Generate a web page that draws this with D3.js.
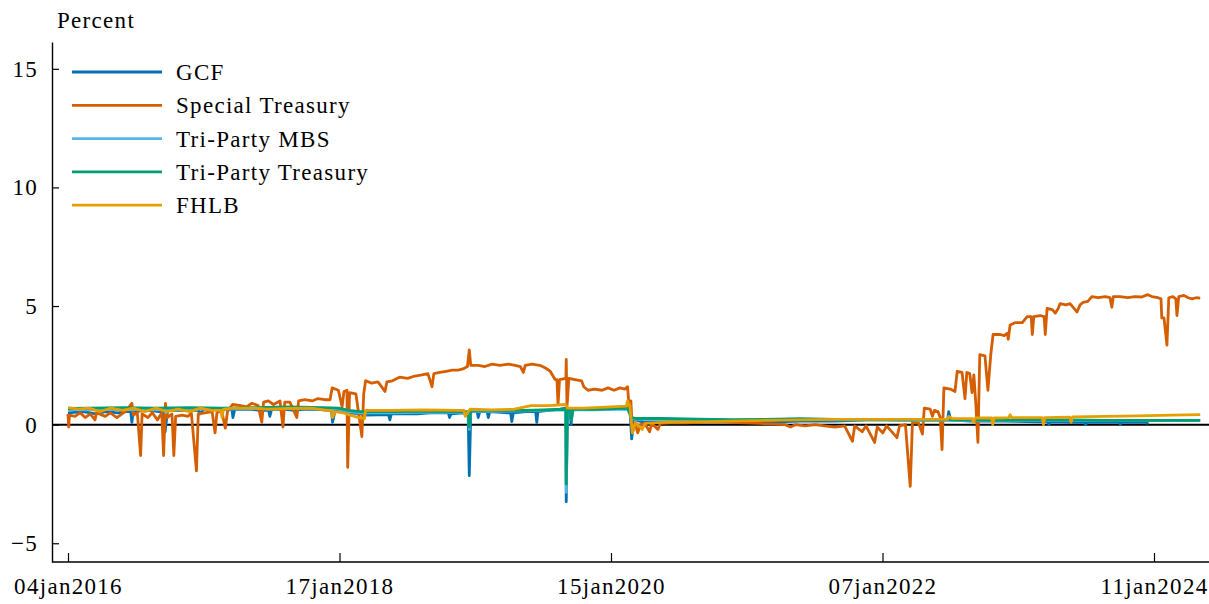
<!DOCTYPE html>
<html>
<head>
<meta charset="utf-8">
<script src="https://cdn.jsdelivr.net/npm/d3@7"></script>
<style>
  html, body { margin: 0; padding: 0; background: #ffffff; }
  svg text { font-family: "Liberation Serif", "DejaVu Serif", serif; fill: #000; letter-spacing: 1.3px; }
</style>
</head>
<body>
<svg id="chart" width="1209" height="604"></svg>
<script>
// Repo rates by segment, percent, daily observations sampled at key dates
const gcf = [
  ["2016-01-04",0.50],["2016-02-15",0.55],["2016-03-20",0.45],["2016-04-15",0.55],["2016-05-20",0.50],
  ["2016-06-10",0.55],["2016-06-24",0.55],["2016-06-27",0.10],["2016-07-01",0.55],["2016-08-10",0.60],
  ["2016-09-10",0.55],["2016-09-23",0.55],["2016-09-26",-0.30],["2016-10-03",0.60],["2016-11-10",0.60],
  ["2016-12-10",0.60],["2016-12-27",0.60],["2016-12-30",0.45],["2017-01-10",0.65],["2017-02-15",0.65],
  ["2017-03-28",0.65],["2017-03-31",0.30],["2017-04-05",0.65],["2017-05-15",0.65],["2017-06-15",0.60],
  ["2017-07-07",0.60],["2017-07-10",0.35],["2017-07-15",0.65],["2017-08-15",0.65],["2017-09-15",0.60],
  ["2017-10-15",0.65],["2017-11-15",0.65],["2017-12-15",0.60],["2017-12-26",0.60],["2017-12-29",0.10],
  ["2018-01-05",0.60],["2018-02-15",0.50],["2018-03-15",0.45],["2018-04-01",0.40],["2018-05-29",0.42],
  ["2018-06-01",0.20],["2018-06-05",0.45],["2018-07-15",0.45],["2018-08-15",0.45],["2018-09-15",0.50],
  ["2018-10-15",0.50],["2018-11-05",0.50],["2018-11-08",0.30],["2018-11-12",0.45],["2018-12-15",0.50],
  ["2018-12-28",0.45],["2018-12-31",-2.15],["2019-01-04",0.55],["2019-01-21",0.55],["2019-01-24",0.30],
  ["2019-01-28",0.55],["2019-02-17",0.55],["2019-02-20",0.30],["2019-02-24",0.55],["2019-04-15",0.50],
  ["2019-04-21",0.50],["2019-04-24",0.13],["2019-04-28",0.50],["2019-06-01",0.55],["2019-06-27",0.55],
  ["2019-06-30",0.10],["2019-07-03",0.55],["2019-08-01",0.60],["2019-09-01",0.65],["2019-09-16",0.70],
  ["2019-09-17",-3.25],["2019-09-20",0.60],["2019-09-27",0.60],["2019-09-30",0.00],["2019-10-03",0.65],
  ["2019-11-01",0.65],["2019-12-01",0.65],["2019-12-31",0.70],["2020-01-31",0.70],["2020-02-28",0.65],
  ["2020-03-06",0.50],["2020-03-10",-0.60],["2020-03-16",0.20],["2020-04-15",0.10],["2020-06-01",0.12],
  ["2020-09-01",0.12],["2020-12-01",0.13],["2021-03-01",0.10],["2021-06-01",0.15],["2021-09-01",0.15],
  ["2021-12-01",0.20],["2022-03-01",0.20],["2022-06-01",0.20],["2022-07-02",0.20],["2022-07-05",0.55],
  ["2022-07-10",0.20],["2022-09-01",0.15],["2022-12-01",0.15],["2023-03-01",0.12],["2023-03-30",0.12],
  ["2023-04-02",0.00],["2023-04-05",0.12],["2023-06-01",0.10],["2023-07-07",0.10],["2023-07-10",0.00],
  ["2023-07-14",0.10],["2023-09-01",0.10],["2023-10-09",0.10],["2023-10-12",0.02],["2023-10-15",0.10],
  ["2023-12-01",0.10],["2023-12-22",0.10],["2023-12-26",0.02]
];

const specialTreasury = [
  ["2016-01-04",0.45],["2016-01-06",-0.10],["2016-01-08",0.40],["2016-01-23",0.35],["2016-02-06",0.50],
  ["2016-02-20",0.30],["2016-03-05",0.45],["2016-03-18",0.20],["2016-03-22",0.50],["2016-04-15",0.35],
  ["2016-04-29",0.50],["2016-05-17",0.30],["2016-05-31",0.45],["2016-06-12",0.60],["2016-06-27",0.90],
  ["2016-07-01",0.40],["2016-07-12",0.50],["2016-07-21",-1.30],["2016-07-25",0.45],["2016-08-10",0.30],
  ["2016-08-22",0.50],["2016-09-05",0.20],["2016-09-17",0.50],["2016-09-22",-1.30],["2016-09-27",0.90],
  ["2016-10-02",0.30],["2016-10-15",0.45],["2016-10-20",-1.30],["2016-10-25",0.35],["2016-11-12",0.40],
  ["2016-11-28",0.35],["2016-12-07",0.50],["2016-12-21",-1.95],["2016-12-26",0.45],["2017-01-13",0.50],
  ["2017-02-02",0.55],["2017-02-10",-0.35],["2017-02-15",0.50],["2017-02-28",0.60],["2017-03-10",-0.15],
  ["2017-03-16",0.55],["2017-03-30",0.85],["2017-04-22",0.80],["2017-05-07",0.75],["2017-05-22",0.90],
  ["2017-06-08",0.80],["2017-06-18",0.10],["2017-06-23",0.95],["2017-07-06",1.00],["2017-07-20",0.85],
  ["2017-08-07",1.00],["2017-08-15",-0.10],["2017-08-20",0.95],["2017-09-03",0.95],["2017-09-22",0.30],
  ["2017-09-27",1.00],["2017-10-14",1.05],["2017-11-03",1.00],["2017-11-19",1.10],["2017-12-08",1.05],
  ["2017-12-22",1.05],["2017-12-28",1.55],["2018-01-14",1.45],["2018-01-24",0.75],["2018-01-29",1.40],
  ["2018-02-06",1.45],["2018-02-08",-1.80],["2018-02-13",1.35],["2018-03-02",1.30],["2018-03-18",-0.50],
  ["2018-03-23",1.30],["2018-03-28",1.85],["2018-04-13",1.75],["2018-04-30",1.80],["2018-05-19",1.40],
  ["2018-05-24",1.80],["2018-06-08",1.85],["2018-06-27",2.00],["2018-07-19",1.95],["2018-08-07",2.05],
  ["2018-08-26",2.10],["2018-09-11",2.15],["2018-09-22",1.60],["2018-09-27",2.15],["2018-10-13",2.20],
  ["2018-10-30",2.25],["2018-11-15",2.30],["2018-12-01",2.30],["2018-12-14",2.35],["2018-12-26",2.45],
  ["2018-12-31",3.15],["2019-01-04",2.50],["2019-01-24",2.50],["2019-02-11",2.45],["2019-03-02",2.55],
  ["2019-03-23",2.50],["2019-04-15",2.55],["2019-05-03",2.50],["2019-05-17",2.45],["2019-05-25",2.20],
  ["2019-05-30",2.50],["2019-06-17",2.55],["2019-07-08",2.50],["2019-07-22",2.40],["2019-08-05",2.25],
  ["2019-08-18",1.90],["2019-08-23",1.90],["2019-08-26",0.85],["2019-08-30",1.90],["2019-09-16",1.95],
  ["2019-09-17",2.75],["2019-09-19",0.75],["2019-09-24",1.95],["2019-10-10",1.90],["2019-10-28",1.85],
  ["2019-11-03",1.60],["2019-11-14",1.45],["2019-12-03",1.50],["2019-12-22",1.45],["2020-01-07",1.55],
  ["2020-01-23",1.45],["2020-02-08",1.55],["2020-02-21",1.50],["2020-02-28",1.60],["2020-03-04",0.60],
  ["2020-03-08",1.00],["2020-03-12",-0.35],["2020-03-20",0.05],["2020-03-26",-0.35],["2020-04-03",0.00],
  ["2020-04-14",0.05],["2020-04-27",-0.30],["2020-05-02",0.05],["2020-05-19",-0.20],["2020-05-25",0.05],
  ["2020-06-21",0.08],["2020-07-31",0.08],["2020-09-09",0.10],["2020-10-19",0.12],["2020-11-27",0.10],
  ["2021-01-06",0.08],["2021-02-15",0.05],["2021-03-27",0.02],["2021-04-23",0.00],["2021-05-07",-0.10],
  ["2021-05-20",0.00],["2021-06-15",-0.05],["2021-07-11",0.00],["2021-08-06",-0.05],["2021-09-02",-0.10],
  ["2021-09-28",-0.05],["2021-10-19",-0.70],["2021-10-25",-0.05],["2021-11-14",-0.30],["2021-11-24",-0.05],
  ["2021-12-17",-0.75],["2021-12-24",-0.10],["2022-01-08",-0.35],["2022-01-18",-0.05],["2022-02-15",-0.55],
  ["2022-02-22",-0.05],["2022-03-10",0.00],["2022-03-23",-2.60],["2022-03-29",0.10],["2022-04-15",0.05],
  ["2022-04-25",-0.40],["2022-04-30",0.70],["2022-05-16",0.65],["2022-05-22",0.35],["2022-05-27",0.60],
  ["2022-06-06",0.55],["2022-06-12",0.30],["2022-06-17",-1.05],["2022-06-22",1.55],["2022-07-09",1.50],
  ["2022-07-22",1.40],["2022-07-28",2.25],["2022-08-10",2.20],["2022-08-18",1.10],["2022-08-23",2.20],
  ["2022-08-31",2.15],["2022-09-06",1.35],["2022-09-11",2.10],["2022-09-16",0.95],["2022-09-22",-0.75],
  ["2022-09-27",2.95],["2022-10-11",2.90],["2022-10-19",1.45],["2022-10-27",3.00],["2022-11-02",3.80],
  ["2022-11-21",3.80],["2022-12-02",3.75],["2022-12-10",3.85],["2022-12-13",3.60],["2022-12-18",4.20],
  ["2022-12-31",4.30],["2023-01-20",4.30],["2023-02-02",4.55],["2023-02-13",4.55],["2023-02-16",3.80],
  ["2023-02-20",4.55],["2023-03-09",4.60],["2023-03-20",4.55],["2023-03-23",3.80],["2023-03-28",4.90],
  ["2023-04-11",4.85],["2023-04-19",4.70],["2023-04-27",4.90],["2023-05-02",5.10],["2023-05-18",5.05],
  ["2023-05-29",5.10],["2023-06-06",4.95],["2023-06-17",4.75],["2023-06-25",5.05],["2023-07-03",5.15],
  ["2023-07-16",5.20],["2023-07-27",5.40],["2023-08-13",5.35],["2023-09-01",5.40],["2023-09-14",5.35],
  ["2023-09-19",4.95],["2023-09-23",5.40],["2023-10-11",5.40],["2023-11-01",5.35],["2023-11-20",5.40],
  ["2023-12-09",5.38],["2023-12-25",5.48],["2024-01-05",5.40],["2024-01-22",5.35],["2024-01-30",5.30],
  ["2024-02-01",4.50],["2024-02-07",4.50],["2024-02-15",3.35],["2024-02-20",5.35],["2024-03-02",5.40],
  ["2024-03-10",5.30],["2024-03-13",4.60],["2024-03-18",5.40],["2024-04-01",5.45],["2024-04-12",5.35],
  ["2024-04-23",5.30],["2024-05-04",5.35],["2024-05-15",5.33]
];

const triPartyMBS = [
  ["2016-01-04",0.62],["2016-03-01",0.62],["2016-06-01",0.65],["2016-09-01",0.62],["2016-09-25",0.62],
  ["2016-09-28",0.50],["2016-10-03",0.65],["2016-12-01",0.66],["2017-03-01",0.66],["2017-06-01",0.68],
  ["2017-09-01",0.70],["2017-12-01",0.68],["2018-01-15",0.65],["2018-02-10",0.55],["2018-03-15",0.50],
  ["2018-06-01",0.50],["2018-09-01",0.52],["2018-12-15",0.52],["2018-12-28",0.52],["2018-12-31",-0.20],
  ["2019-01-04",0.56],["2019-03-01",0.56],["2019-06-01",0.58],["2019-09-16",0.62],["2019-09-17",-2.85],
  ["2019-09-20",0.58],["2019-09-28",0.58],["2019-10-01",0.20],["2019-10-05",0.62],["2019-12-01",0.62],
  ["2020-02-28",0.66],["2020-03-10",0.25],["2020-03-20",0.22],["2020-06-01",0.22],["2020-09-01",0.20],
  ["2020-12-01",0.18],["2021-03-01",0.20],["2021-06-01",0.22],["2021-09-01",0.20],["2021-12-01",0.20],
  ["2022-03-01",0.18],["2022-06-01",0.18],["2022-09-01",0.18],["2022-12-01",0.17],["2023-03-01",0.18],
  ["2023-06-01",0.18],["2023-09-01",0.17],["2023-12-01",0.17],["2024-05-15",0.17]
];

const triPartyTreasury = [
  ["2016-01-04",0.68],["2016-03-01",0.70],["2016-06-01",0.72],["2016-09-01",0.70],["2016-12-01",0.72],
  ["2017-03-01",0.70],["2017-06-01",0.72],["2017-09-01",0.75],["2017-12-01",0.72],["2018-01-15",0.70],
  ["2018-02-10",0.60],["2018-03-15",0.55],["2018-06-01",0.55],["2018-09-01",0.56],["2018-12-15",0.55],
  ["2018-12-28",0.55],["2018-12-31",-0.10],["2019-01-04",0.60],["2019-03-01",0.60],["2019-06-01",0.60],
  ["2019-09-16",0.65],["2019-09-17",-2.50],["2019-09-20",0.60],["2019-09-28",0.60],["2019-10-01",0.20],
  ["2019-10-05",0.65],["2019-12-01",0.65],["2020-02-28",0.70],["2020-03-10",0.30],["2020-03-20",0.26],
  ["2020-06-01",0.26],["2020-09-01",0.23],["2020-12-01",0.21],["2021-03-01",0.22],["2021-06-01",0.25],
  ["2021-09-01",0.22],["2021-12-01",0.22],["2022-03-01",0.20],["2022-06-01",0.20],["2022-09-01",0.20],
  ["2022-12-01",0.18],["2023-03-01",0.20],["2023-06-01",0.20],["2023-09-01",0.18],["2023-12-01",0.18],
  ["2024-05-15",0.18]
];

const fhlb = [
  ["2016-01-04",0.72],["2016-02-01",0.65],["2016-03-01",0.70],["2016-04-01",0.55],["2016-05-01",0.70],
  ["2016-06-01",0.60],["2016-07-01",0.70],["2016-08-01",0.55],["2016-09-01",0.70],["2016-10-01",0.55],
  ["2016-11-01",0.65],["2016-12-01",0.55],["2017-01-01",0.70],["2017-02-01",0.60],["2017-02-26",0.60],
  ["2017-03-01",0.30],["2017-03-05",0.65],["2017-04-01",0.70],["2017-06-01",0.70],["2017-07-01",0.65],
  ["2017-09-01",0.68],["2017-11-01",0.70],["2017-12-15",0.60],["2017-12-26",0.60],["2017-12-29",0.30],
  ["2018-01-05",0.55],["2018-01-25",0.50],["2018-02-15",0.40],["2018-03-10",0.30],["2018-03-25",0.25],
  ["2018-03-28",0.60],["2018-06-01",0.60],["2018-09-01",0.62],["2018-12-01",0.60],["2018-12-17",0.60],
  ["2018-12-20",0.35],["2019-01-02",0.65],["2019-03-01",0.62],["2019-05-01",0.65],["2019-06-15",0.80],
  ["2019-08-01",0.80],["2019-09-15",0.85],["2019-09-20",0.70],["2019-11-01",0.70],["2020-01-15",0.75],
  ["2020-02-25",0.78],["2020-02-28",1.00],["2020-03-05",0.80],["2020-03-12",-0.35],["2020-03-20",0.10],
  ["2020-04-07",-0.20],["2020-04-15",0.05],["2020-06-01",0.10],["2020-09-01",0.12],["2020-12-01",0.15],
  ["2021-03-01",0.18],["2021-06-01",0.20],["2021-09-01",0.22],["2021-12-01",0.22],["2022-03-01",0.22],
  ["2022-06-01",0.22],["2022-07-02",0.22],["2022-07-05",0.35],["2022-07-15",0.25],["2022-09-07",0.25],
  ["2022-09-10",0.10],["2022-09-15",0.28],["2022-10-29",0.28],["2022-11-01",0.00],["2022-11-05",0.28],
  ["2022-12-15",0.30],["2022-12-18",0.42],["2022-12-22",0.30],["2023-03-15",0.30],["2023-03-18",0.00],
  ["2023-03-22",0.30],["2023-05-28",0.32],["2023-06-01",0.10],["2023-06-05",0.33],["2023-09-01",0.35],
  ["2023-12-01",0.37],["2024-03-01",0.40],["2024-05-15",0.42]
];

const seriesNames = ["GCF", "Special Treasury", "Tri-Party MBS", "Tri-Party Treasury", "FHLB"];
const seriesColors = ["#0072B2", "#D55E00", "#56B4E9", "#009E73", "#E69F00"];
const seriesData = [gcf, specialTreasury, triPartyMBS, triPartyTreasury, fhlb];

// Axis labelling
const xTickDates = ["2016-01-04", "2018-01-17", "2020-01-15", "2022-01-07", "2024-01-11"];
const yTicks = [-5, 0, 5, 10, 15];
const yDomain = [-5.79, 16.13];
const yTitle = "Percent";

// ---- drawing ----
const parse = d3.timeParse("%Y-%m-%d");
const fmt = d3.timeFormat("%d%b%Y");
const svg = d3.select("#chart");

const plotLeft = 52, plotRight = 1209, plotTop = 42, plotBottom = 562;
const fontSize = 23;

// Trading-day axis: tick dates are evenly spaced, so a piecewise time scale is used
const tickX = [68, 339.5, 611, 882.5, 1154];
const x = d3.scaleTime().domain(xTickDates.map(parse)).range(tickX);
const y = d3.scaleLinear().domain(yDomain).range([plotBottom, plotTop]);

// zero reference line
svg.append("line")
  .attr("x1", plotLeft).attr("x2", plotRight)
  .attr("y1", y(0)).attr("y2", y(0))
  .attr("stroke", "#000").attr("stroke-width", 2);

// series lines
const line = d3.line()
  .x(d => x(parse(d[0])))
  .y(d => y(d[1]));

seriesData.forEach((s, i) => {
  svg.append("path")
    .datum(s)
    .attr("fill", "none")
    .attr("stroke", seriesColors[i])
    .attr("stroke-width", 2.8)
    .attr("stroke-linejoin", "round")
    .attr("d", line);
});

// y axis
const yAxis = d3.axisLeft(y)
  .tickValues(yTicks)
  .tickFormat(d3.format("d"))
  .tickSizeInner(-7)
  .tickSizeOuter(0)
  .tickPadding(14);
const gy = svg.append("g").attr("transform", `translate(${plotLeft},0)`).call(yAxis);
gy.select(".domain").attr("stroke", "#000").attr("stroke-width", 1.4);
gy.selectAll(".tick line").attr("stroke", "#000").attr("stroke-width", 1.2);
gy.selectAll(".tick text")
  .attr("font-size", fontSize)
  .style("font-family", '"Liberation Serif", serif');

// x axis
const xAxis = d3.axisBottom(x)
  .tickValues(xTickDates.map(parse))
  .tickFormat(d => fmt(d).toLowerCase())
  .tickSizeInner(-9)
  .tickSizeOuter(0)
  .tickPadding(16);
const gx = svg.append("g").attr("transform", `translate(0,${plotBottom})`).call(xAxis);
gx.select(".domain").remove();
gx.selectAll(".tick line").attr("stroke", "#000").attr("stroke-width", 1.2);
gx.selectAll(".tick text")
  .attr("font-size", fontSize)
  .style("font-family", '"Liberation Serif", serif');
gx.append("line")
  .attr("x1", plotLeft).attr("x2", plotRight)
  .attr("y1", 0).attr("y2", 0)
  .attr("stroke", "#000").attr("stroke-width", 1.4);

// axis title
svg.append("text")
  .attr("x", 57).attr("y", 28)
  .attr("font-size", fontSize)
  .text(yTitle);

// legend
const legend = svg.append("g");
seriesNames.forEach((name, i) => {
  const ly = 72 + i * 33.3;
  legend.append("line")
    .attr("x1", 72).attr("x2", 162)
    .attr("y1", ly).attr("y2", ly)
    .attr("stroke", seriesColors[i]).attr("stroke-width", 2.8);
  legend.append("text")
    .attr("x", 176).attr("y", ly)
    .attr("dy", "0.35em")
    .attr("font-size", fontSize)
    .text(name);
});
</script>
</body>
</html>
